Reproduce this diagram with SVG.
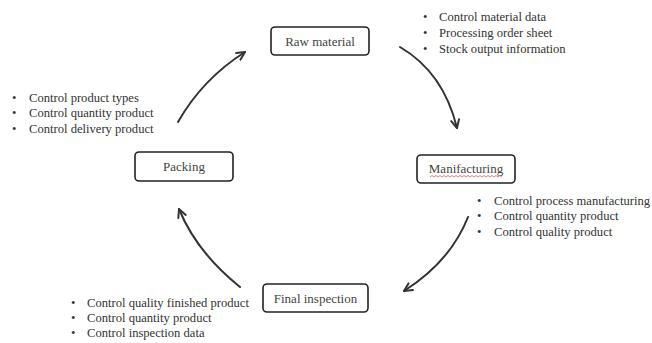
<svg xmlns="http://www.w3.org/2000/svg" width="652" height="343" viewBox="0 0 652 343">
<style>
.box{fill:#fff;stroke:#222;stroke-width:1.6}
.bt{font-family:"Liberation Serif","Times New Roman",serif;font-size:13px;fill:#444;text-anchor:middle}
.li{font-family:"Liberation Serif","Times New Roman",serif;font-size:12.6px;fill:#333}
.con{fill:none;stroke:#333;stroke-width:2;stroke-linecap:round}
</style>
<defs>
<marker id="ah" viewBox="0 0 10 10" refX="9" refY="5" markerWidth="10" markerHeight="10" markerUnits="userSpaceOnUse" orient="auto">
<path d="M1,1 L9,5 L1,9" fill="none" stroke="#333" stroke-width="2" stroke-linecap="round" stroke-linejoin="round"/>
</marker>
</defs>
<rect width="652" height="343" fill="#fff"/>
<g id="connectors">
<path class="con" marker-end="url(#ah)" d="M178,122 Q202.5,79 245,52"/>
<path class="con" marker-end="url(#ah)" d="M400,47 Q443.5,72.5 457,128"/>
<path class="con" marker-end="url(#ah)" d="M468,217 Q450.5,261.5 404,291"/>
<path class="con" marker-end="url(#ah)" d="M240,287 Q196.5,252 179,209"/>
</g>
<g id="raw-material">
<rect class="box" x="271" y="27" width="98" height="28" rx="4"/>
<text class="bt" x="320" y="46">Raw material</text>
</g>
<g id="manufacturing">
<rect class="box" x="417" y="155" width="98" height="28" rx="4"/>
<text class="bt" x="466" y="173">Manifacturing</text>
<path d="M430,177 l2,-1.5 l2,1.5 l2,-1.5 l2,1.5 l2,-1.5 l2,1.5 l2,-1.5 l2,1.5 l2,-1.5 l2,1.5 l2,-1.5 l2,1.5 l2,-1.5 l2,1.5 l2,-1.5 l2,1.5 l2,-1.5 l2,1.5 l2,-1.5 l2,1.5 l2,-1.5 l2,1.5 l2,-1.5 l2,1.5 l2,-1.5 l2,1.5 l2,-1.5 l2,1.5 l2,-1.5 l2,1.5 l2,-1.5 l2,1.5 l2,-1.5 l2,1.5 l2,-1.5 l2,1.5" fill="none" stroke="#e06060" stroke-width="0.8"/>
</g>
<g id="final-inspection">
<rect class="box" x="263" y="284" width="105" height="28" rx="4"/>
<text class="bt" x="315.5" y="303">Final inspection</text>
</g>
<g id="packing">
<rect class="box" x="135" y="152" width="98" height="29" rx="4"/>
<text class="bt" x="184" y="171">Packing</text>
</g>
<g id="raw-material-notes" class="li">
<text x="423" y="21">•</text><text x="439" y="21">Control material data</text>
<text x="423" y="37">•</text><text x="439" y="37">Processing order sheet</text>
<text x="423" y="53">•</text><text x="439" y="53">Stock output information</text>
</g>
<g id="packing-notes" class="li">
<text x="12" y="102">•</text><text x="29" y="102">Control product types</text>
<text x="12" y="117">•</text><text x="29" y="117">Control quantity product</text>
<text x="12" y="133">•</text><text x="29" y="133">Control delivery product</text>
</g>
<g id="manufacturing-notes" class="li">
<text x="477" y="205">•</text><text x="494" y="205">Control process manufacturing</text>
<text x="477" y="220">•</text><text x="494" y="220">Control quantity product</text>
<text x="477" y="236">•</text><text x="494" y="236">Control quality product</text>
</g>
<g id="inspection-notes" class="li">
<text x="71" y="307">•</text><text x="87" y="307">Control quality finished product</text>
<text x="71" y="322">•</text><text x="87" y="322">Control quantity product</text>
<text x="71" y="337">•</text><text x="87" y="337">Control inspection data</text>
</g>
</svg>
